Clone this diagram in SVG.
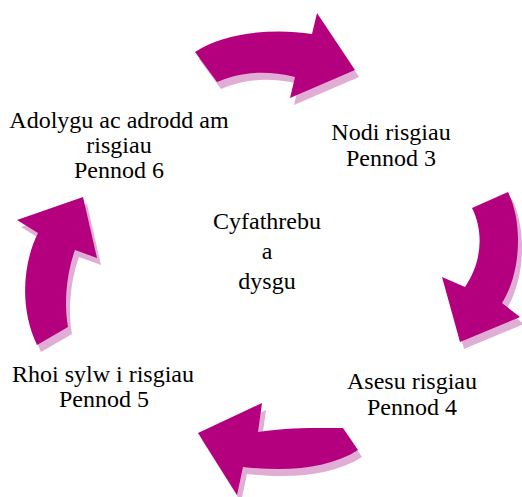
<svg xmlns="http://www.w3.org/2000/svg" width="522" height="497" viewBox="0 0 522 497">
<style>
.arrow{fill:#b4007e}
.shadow{fill:#e0aed4}
.lbl{font-family:'Liberation Serif','Times New Roman',serif;font-size:24px;fill:#000;text-anchor:middle}
</style>
<rect width="522" height="497" fill="#fff"/>
<g id="connectors">
  <g id="arrow-top">
    <path class="shadow" transform="translate(4,7)" d="M195,52 C225,32 275,28 312,34 L317,13 L355,70 L290,98 L295,77 C265,70 240,72 217,82 Z"/>
    <path class="arrow" d="M195,52 C225,32 275,28 312,34 L317,13 L355,70 L290,98 L295,77 C265,70 240,72 217,82 Z"/>
  </g>
  <g id="arrow-right">
    <path class="shadow" transform="translate(4,7)" d="M472,208 L508,192 C524,225 520,275 502,303 L520,317 L460,342 L442,277 L465,287 C482,262 484,232 472,208 Z"/>
    <path class="arrow" d="M472,208 L508,192 C524,225 520,275 502,303 L520,317 L460,342 L442,277 L465,287 C482,262 484,232 472,208 Z"/>
  </g>
  <g id="arrow-bottom">
    <path class="shadow" transform="translate(4,7)" d="M343,428 L358,450 C330,468 290,472 243,467 L237,495 L198,433 L262,403 L258,432 C285,428 305,428 320,428 Z"/>
    <path class="arrow" d="M343,428 L358,450 C330,468 290,472 243,467 L237,495 L198,433 L262,403 L258,432 C285,428 305,428 320,428 Z"/>
  </g>
  <g id="arrow-left">
    <path class="shadow" transform="translate(4,7)" d="M37,345 C20,310 22,265 38,233 L17,220 L83,197 L97,258 L75,250 C66,275 64,305 68,327 Z"/>
    <path class="arrow" d="M37,345 C20,310 22,265 38,233 L17,220 L83,197 L97,258 L75,250 C66,275 64,305 68,327 Z"/>
  </g>
</g>
<g id="node-center" font-family="Liberation Serif, serif">
  <text class="lbl" x="267" y="229">Cyfathrebu</text>
  <text class="lbl" x="267" y="259">a</text>
  <text class="lbl" x="267" y="289">dysgu</text>
</g>
<g id="node-nodi" font-family="Liberation Serif, serif">
  <text class="lbl" x="391" y="140">Nodi risgiau</text>
  <text class="lbl" x="391" y="166">Pennod 3</text>
</g>
<g id="node-asesu" font-family="Liberation Serif, serif">
  <text class="lbl" x="412" y="389">Asesu risgiau</text>
  <text class="lbl" x="412" y="415">Pennod 4</text>
</g>
<g id="node-rhoi" font-family="Liberation Serif, serif">
  <text class="lbl" x="103" y="382">Rhoi sylw i risgiau</text>
  <text class="lbl" x="104" y="407">Pennod 5</text>
</g>
<g id="node-adolygu" font-family="Liberation Serif, serif">
  <text class="lbl" x="119" y="128">Adolygu ac adrodd am</text>
  <text class="lbl" x="119" y="153">risgiau</text>
  <text class="lbl" x="119" y="178">Pennod 6</text>
</g>
</svg>
